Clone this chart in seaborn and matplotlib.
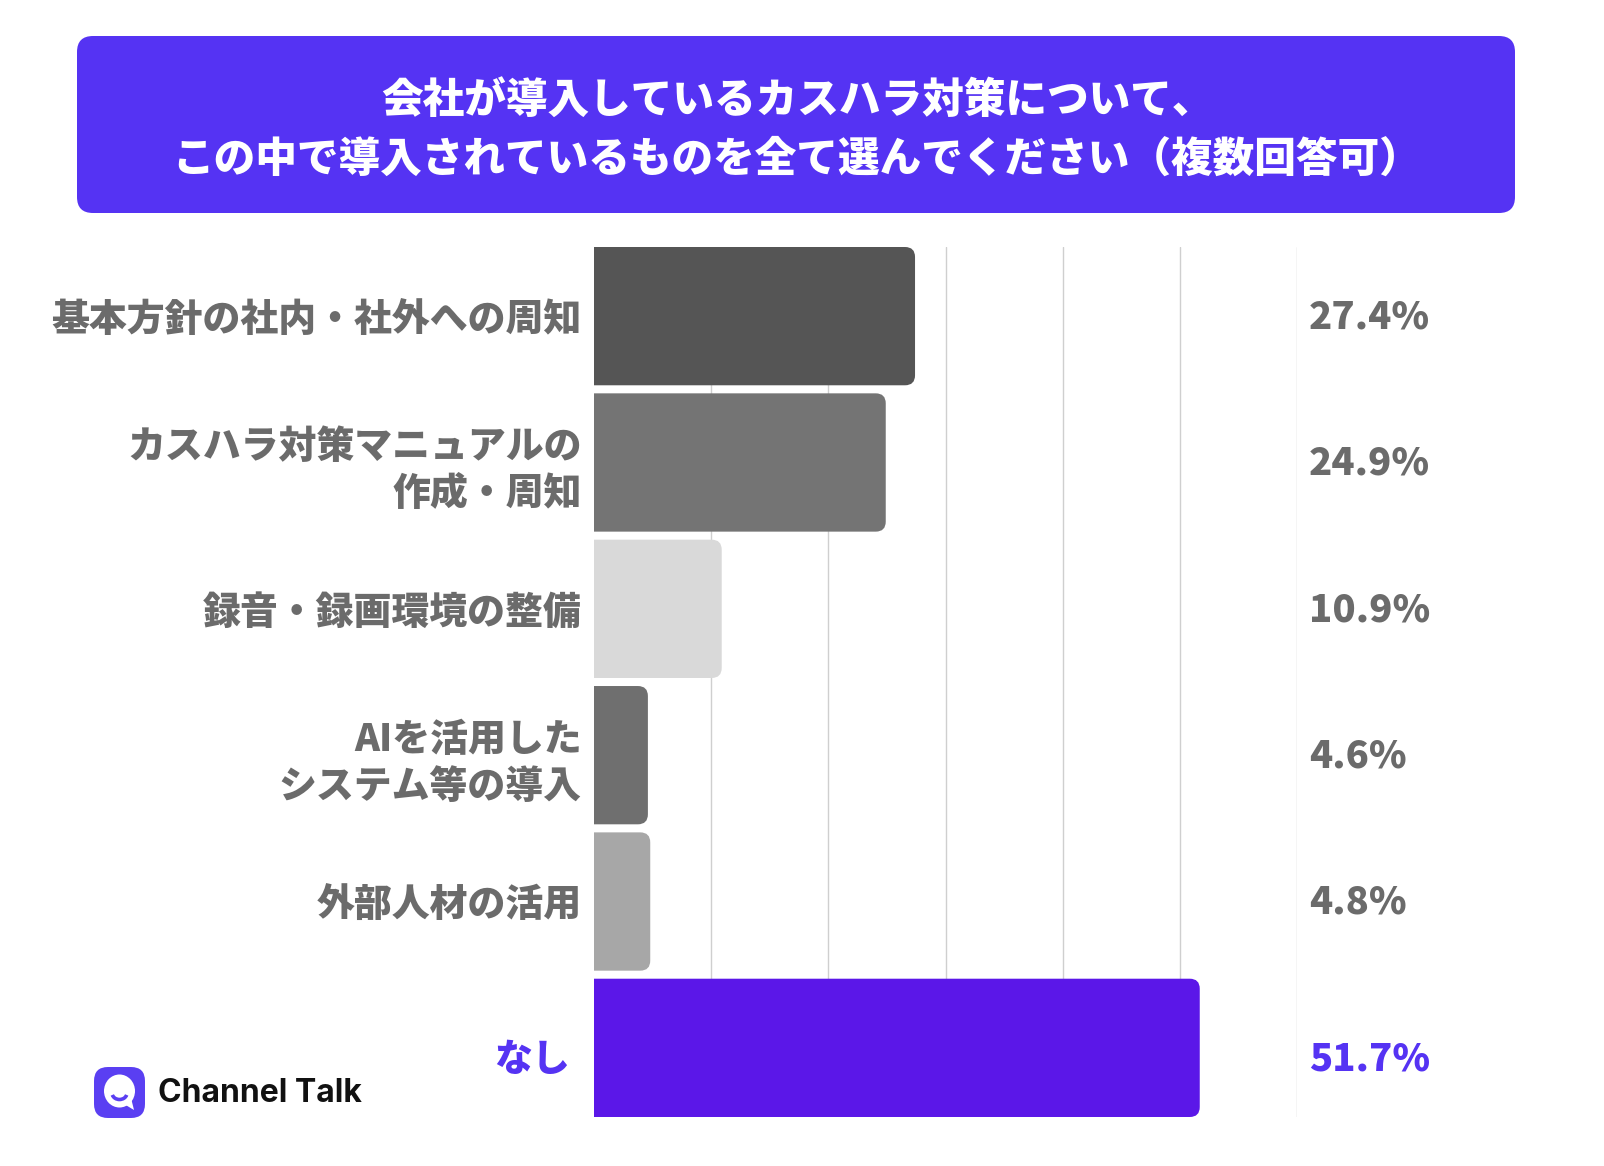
import numpy as np
import pandas as pd
import matplotlib
matplotlib.use("Agg")
import matplotlib.pyplot as plt
from matplotlib.patches import FancyBboxPatch, Ellipse, Arc, Polygon
from matplotlib.transforms import ScaledTranslation
import seaborn as sns

# data
categories = [
    "基本方針の社内・社外への周知",
    "カスハラ対策マニュアルの\n作成・周知",
    "録音・録画環境の整備",
    "AIを活用した\nシステム等の導入",
    "外部人材の活用",
    "なし",
]
values = [27.4, 24.9, 10.9, 4.6, 4.8, 51.7]
bar_colors = ["#555555", "#747474", "#d9d9d9", "#6f6f6f", "#a7a7a7", "#5b17e8"]
title_lines = "会社が導入しているカスハラ対策について、\nこの中で導入されているものを全て選んでください（複数回答可）"

PURPLE = "#5533f3"
GRAY_TXT = "#6b6b6b"

sns.set_theme(style="white")
plt.rcParams['font.family'] = ['Noto Sans CJK JP', 'DejaVu Sans']
plt.rcParams['font.weight'] = 'bold'

W, H = 1604, 1166
fig = plt.figure(figsize=(W / 100, H / 100), dpi=100)
fig.patch.set_facecolor("white")

# background layer in pixel coords for title box + logo
bg = fig.add_axes([0, 0, 1, 1], zorder=0)
bg.set_xlim(0, W)
bg.set_ylim(H, 0)
bg.axis("off")

bg.add_patch(FancyBboxPatch((77, 36), 1438, 177,
                            boxstyle="round,pad=0,rounding_size=16",
                            fc=PURPLE, ec="none"))
bg.text(797, 131, title_lines, ha="center", va="center", color="white",
        fontsize=30, fontweight="heavy", linespacing=1.48)

# logo
LOGO = "#5a3ff2"
bg.add_patch(FancyBboxPatch((94, 1067), 51, 51,
                            boxstyle="round,pad=0,rounding_size=14",
                            fc=LOGO, ec="none"))
bg.add_patch(Ellipse((119.5, 1091), 31, 33, fc="white", ec="none"))
bg.add_patch(Polygon([[124, 1104], [134, 1110], [131, 1098]], closed=True, fc="white", ec="none"))
bg.add_patch(Arc((119.5, 1093), 15, 13, theta1=15, theta2=165, color=LOGO, lw=2.6))
bg.text(158, 1094, "Channel Talk", ha="left", va="center", color="#111111",
        fontsize=23, fontweight="bold", family=["Inter", "DejaVu Sans"])

# main bar chart
x0, x1 = 594, 1297
y_top, y_bot = 247, 1117
ax = fig.add_axes([x0 / W, 1 - y_bot / H, (x1 - x0) / W, (y_bot - y_top) / H], zorder=1)
ax.patch.set_alpha(0)

bw_ = 0.945
df = pd.DataFrame({"category": categories, "value": values})
sns.barplot(data=df, x="value", y="category", hue="category", palette=bar_colors,
            saturation=1, legend=False, width=bw_, ax=ax, orient="h", zorder=3)

ax.set_xlim(0, 60)
ax.set_ylim(len(categories) - 1 + bw_ / 2, -bw_ / 2)

# rounded right corners
px_per_x = (x1 - x0) / 60
px_per_y = (y_bot - y_top) / (len(categories) - 1 + bw_)
aspect = (1 / px_per_y) / (1 / px_per_x)
r = 10 / px_per_x
for p in list(ax.patches):
    bx, by = p.get_x(), p.get_y()
    bw, bh = p.get_width(), p.get_height()
    fc = p.get_facecolor()
    p.remove()
    ax.add_patch(FancyBboxPatch((bx - r, by), bw + r, bh,
                                boxstyle=f"round,pad=0,rounding_size={r}",
                                mutation_aspect=aspect, fc=fc, ec="none", zorder=3))

for gx in [10, 20, 30, 40, 50, 60]:
    ax.axvline(gx, color="#cfcfcf", lw=1.0, zorder=1)

for s in ax.spines.values():
    s.set_visible(False)
ax.set_xticks([])
ax.set_xlabel("")
ax.set_ylabel("")
ax.tick_params(axis="y", length=0, pad=9)
ax.set_yticks(range(len(categories)))
ax.set_yticklabels(categories, fontsize=27.3, fontweight="heavy", linespacing=1.3)
for i, lab in enumerate(ax.get_yticklabels()):
    if i == len(categories) - 1:
        lab.set_color(PURPLE)
        # the "なし" label sits a bit further left and lower
        lab.set_transform(lab.get_transform() + ScaledTranslation(-0.12, -0.08, fig.dpi_scale_trans))
    else:
        lab.set_color(GRAY_TXT)

for i, v in enumerate(values):
    last = i == len(values) - 1
    c = PURPLE if last else GRAY_TXT
    ax.text(61.0, i + (0.08 if last else 0.01), f"{v}%", ha="left", va="center", color=c,
            fontsize=27.5, fontweight="heavy", clip_on=False)

fig.savefig("out.png", dpi=100)
